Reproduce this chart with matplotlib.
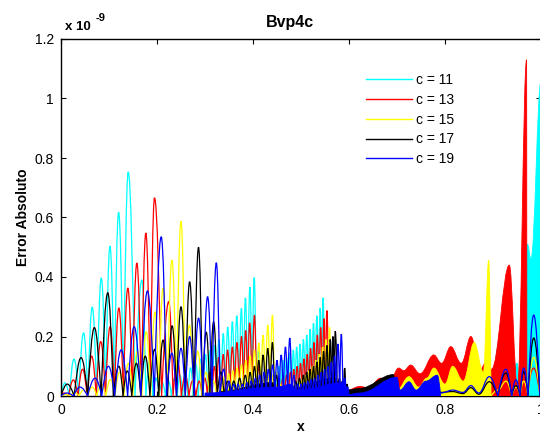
import matplotlib
matplotlib.use("Agg")
import matplotlib.pyplot as plt
from matplotlib.path import Path
from matplotlib.patches import PathPatch
from matplotlib.lines import Line2D

plt.rcParams['font.family'] = ['Liberation Sans', 'DejaVu Sans']

labels = ["c = 11", "c = 13", "c = 15", "c = 17", "c = 19"]
colors = ["#00ffff", "#ff0000", "#ffff00", "#000000", "#0000ff"]

# ---- oscillating error, x in [0, 0.6]: peak positions and heights (x 1e-9) ----
c11_px = [0.008, 0.027, 0.047, 0.065, 0.084, 0.102, 0.120, 0.140, 0.1685, 0.185, 0.198, 0.211,
          0.224, 0.236, 0.248, 0.259, 0.270, 0.281, 0.291, 0.301, 0.311, 0.320, 0.329, 0.338,
          0.3474, 0.357, 0.3662, 0.3758, 0.3842, 0.3935, 0.4025, 0.411, 0.420, 0.428, 0.437,
          0.445, 0.454, 0.462, 0.470, 0.477, 0.484, 0.491, 0.498, 0.505, 0.512, 0.519, 0.526,
          0.533, 0.540, 0.546, 0.552, 0.558, 0.564, 0.570, 0.576, 0.582, 0.588, 0.594]
c11_ph = [0.044, 0.124, 0.212, 0.299, 0.397, 0.504, 0.618, 0.753, 0.39, 0.12, 0.06, 0.045,
          0.05, 0.06, 0.07, 0.08, 0.095, 0.11, 0.125, 0.14, 0.155, 0.17, 0.19, 0.21,
          0.232, 0.25, 0.27, 0.295, 0.33, 0.366, 0.398, 0.15, 0.06, 0.04, 0.06,
          0.08, 0.10, 0.12, 0.13, 0.145, 0.155, 0.165, 0.175, 0.19, 0.205, 0.225, 0.245,
          0.27, 0.295, 0.33, 0.12, 0.06, 0.04, 0.03, 0.03, 0.03, 0.03, 0.02]

c13_px = [0.006, 0.0257, 0.0449, 0.064, 0.0828, 0.1023, 0.1205, 0.1392, 0.158, 0.1768, 0.1948,
          0.2245, 0.2425, 0.259, 0.274, 0.288, 0.300, 0.310, 0.3195, 0.3285, 0.338, 0.347,
          0.357, 0.3665, 0.376, 0.3848, 0.393, 0.403, 0.412, 0.421, 0.430, 0.438, 0.446,
          0.454, 0.462, 0.470, 0.478, 0.485, 0.492, 0.499, 0.506, 0.513, 0.520, 0.527, 0.534,
          0.541, 0.548, 0.554, 0.561, 0.567, 0.573, 0.579, 0.585, 0.591]
c13_ph = [0.01, 0.054, 0.09, 0.134, 0.183, 0.233, 0.296, 0.363, 0.447, 0.548, 0.666,
          0.317, 0.12, 0.07, 0.05, 0.05, 0.06, 0.08, 0.10, 0.13, 0.14, 0.155,
          0.165, 0.18, 0.20, 0.22, 0.246, 0.272, 0.10, 0.05, 0.04, 0.04, 0.045,
          0.05, 0.06, 0.07, 0.08, 0.09, 0.10, 0.11, 0.125, 0.14, 0.16, 0.18, 0.205,
          0.23, 0.26, 0.287, 0.08, 0.04, 0.03, 0.03, 0.03, 0.03]

c15_px = [0.010, 0.028, 0.047, 0.065, 0.084, 0.103, 0.122, 0.1405, 0.159, 0.1775, 0.196, 0.2123,
          0.231, 0.250, 0.2675, 0.285, 0.302, 0.318, 0.331, 0.340, 0.349, 0.358, 0.367, 0.376,
          0.385, 0.394, 0.403, 0.412, 0.421, 0.4307, 0.4405, 0.449, 0.457, 0.465, 0.473, 0.481,
          0.489, 0.496, 0.503, 0.510, 0.517, 0.524, 0.531, 0.538, 0.545, 0.552, 0.5595, 0.566,
          0.572, 0.578, 0.584, 0.590, 0.596]
c15_ph = [0.005, 0.012, 0.02, 0.03, 0.04, 0.055, 0.08, 0.11, 0.15, 0.216, 0.283, 0.362,
          0.457, 0.588, 0.239, 0.15, 0.08, 0.05, 0.05, 0.065, 0.075, 0.085, 0.095, 0.105,
          0.12, 0.135, 0.155, 0.178, 0.205, 0.239, 0.272, 0.08, 0.04, 0.03, 0.03, 0.035,
          0.04, 0.05, 0.06, 0.07, 0.085, 0.10, 0.12, 0.14, 0.165, 0.19, 0.23, 0.08,
          0.03, 0.03, 0.03, 0.03, 0.03]

c17_px = [0.013, 0.0418, 0.0695, 0.0975, 0.1205, 0.138, 0.157, 0.1755, 0.195, 0.2125, 0.2315,
          0.250, 0.268, 0.2865, 0.3025, 0.318, 0.333, 0.347, 0.360, 0.372, 0.384, 0.394, 0.403,
          0.412, 0.421, 0.4307, 0.4405, 0.449, 0.457, 0.465, 0.473, 0.481, 0.489, 0.497, 0.505,
          0.512, 0.519, 0.526, 0.533, 0.540, 0.547, 0.554, 0.561, 0.5665, 0.5714, 0.580, 0.586,
          0.591, 0.596]
c17_ph = [0.04, 0.129, 0.23, 0.347, 0.10, 0.084, 0.11, 0.134, 0.157, 0.188, 0.236,
          0.30, 0.384, 0.50, 0.215, 0.25, 0.08, 0.05, 0.05, 0.06, 0.07, 0.08, 0.10,
          0.12, 0.138, 0.16, 0.18, 0.07, 0.03, 0.03, 0.035, 0.04, 0.05, 0.06, 0.07,
          0.08, 0.09, 0.10, 0.115, 0.13, 0.15, 0.17, 0.19, 0.20, 0.218, 0.06, 0.05,
          0.094, 0.04]

c19_px = [0.012, 0.0397, 0.071, 0.0988, 0.1253, 0.1524, 0.180, 0.2088, 0.231, 0.250, 0.268,
          0.2866, 0.3054, 0.3236, 0.339, 0.350, 0.360, 0.369, 0.378, 0.387, 0.396, 0.405,
          0.414, 0.423, 0.432, 0.441, 0.450, 0.4587, 0.4676, 0.4766, 0.485, 0.493, 0.500,
          0.507, 0.514, 0.521, 0.528, 0.535, 0.542, 0.549, 0.556, 0.563, 0.570, 0.577, 0.584,
          0.591, 0.597]
c19_ph = [0.01, 0.03, 0.06, 0.10, 0.155, 0.233, 0.353, 0.535, 0.144, 0.16, 0.20,
          0.262, 0.334, 0.448, 0.09, 0.05, 0.04, 0.04, 0.04, 0.045, 0.05, 0.06,
          0.07, 0.08, 0.09, 0.105, 0.12, 0.138, 0.165, 0.195, 0.07, 0.04, 0.04,
          0.045, 0.05, 0.055, 0.06, 0.07, 0.08, 0.09, 0.10, 0.115, 0.135, 0.175, 0.208,
          0.06, 0.03]

# ---- dense (unresolved) oscillation bands: outline vertices, crest/valley ----
c11_bx = [0.600, 0.700, 0.735, 0.752, 0.770, 0.790, 0.830, 0.860, 0.880, 0.895, 0.915, 0.935,
          0.950, 0.958, 0.972, 0.979, 1.000]
c11_by = [0.010, 0.020, 0.080, 0.050, 0.060, 0.040, 0.060, 0.040, 0.050, 0.030, 0.200, 0.050,
          0.110, 0.040, 0.510, 0.460, 1.057]

c13_bx = [0.597, 0.622, 0.640, 0.666, 0.685, 0.7035, 0.714, 0.7286, 0.748, 0.7766, 0.793,
          0.812, 0.834, 0.854, 0.874, 0.884, 0.897, 0.934, 0.951, 0.970, 0.9705]
c13_by = [0.020, 0.032, 0.028, 0.060, 0.050, 0.094, 0.085, 0.104, 0.075, 0.138, 0.110,
          0.166, 0.110, 0.200, 0.090, 0.110, 0.090, 0.440, 0.030, 1.130, 0.000]

c15_bx = [0.330, 0.400, 0.440, 0.452, 0.500, 0.560, 0.570, 0.597, 0.640, 0.655, 0.680, 0.700,
          0.725, 0.745, 0.762, 0.777, 0.800, 0.816, 0.838, 0.861, 0.880, 0.891, 0.896]
c15_by = [0.020, 0.050, 0.070, 0.020, 0.040, 0.080, 0.020, 0.010, 0.020, 0.015, 0.035, 0.020,
          0.065, 0.030, 0.060, 0.094, 0.040, 0.100, 0.050, 0.180, 0.080, 0.457, 0.000]

c17_bx = [0.330, 0.440, 0.450, 0.572, 0.580, 0.597, 0.620, 0.693, 0.696]
c17_by = [0.015, 0.045, 0.015, 0.060, 0.020, 0.020, 0.025, 0.072, 0.000]

c19_bx = [0.300, 0.450, 0.480, 0.490, 0.590, 0.600, 0.622, 0.700, 0.706, 0.725, 0.740, 0.760,
          0.784, 0.791]
c19_by = [0.010, 0.030, 0.040, 0.020, 0.045, 0.005, 0.010, 0.063, 0.020, 0.048, 0.020, 0.050,
          0.070, 0.000]

# ---- smooth low-amplitude tails: alternating trough/crest vertices ----
c13_tx = [0.9705, 0.9848, 0.998]
c13_ty = [0.000, 0.094, 0.000]

c15_tx = [0.896, 0.910, 0.927, 0.939, 0.948, 0.956, 0.964, 0.973, 0.9848, 0.998]
c15_ty = [0.000, 0.020, 0.050, 0.000, 0.030, 0.000, 0.050, 0.000, 0.130, 0.000]

c17_tx = [0.696, 0.730, 0.760, 0.790, 0.8163, 0.8372, 0.8539, 0.8706, 0.892, 0.910, 0.9269,
          0.9388, 0.9478, 0.9562, 0.9639, 0.9729, 0.9848, 0.998]
c17_ty = [0.005, 0.010, 0.006, 0.012, 0.015, 0.008, 0.028, 0.006, 0.048, 0.000, 0.077,
          0.000, 0.035, 0.000, 0.082, 0.000, 0.195, 0.000]

c19_tx = [0.791, 0.8163, 0.8372, 0.8539, 0.8706, 0.892, 0.910, 0.9269, 0.9388, 0.9478, 0.9562,
          0.9639, 0.9729, 0.9848, 0.998]
c19_ty = [0.010, 0.020, 0.012, 0.035, 0.010, 0.065, 0.000, 0.090, 0.000, 0.054, 0.000,
          0.094, 0.000, 0.272, 0.000]


def curve_codes(xs, ys):
    """Cubic Bezier path through successive low/high vertices."""
    verts = [(xs[0], ys[0])]
    codes = [Path.MOVETO]
    for x0, y0, x1, y1 in zip(xs[:-1], ys[:-1], xs[1:], ys[1:]):
        dx, dy = x1 - x0, y1 - y0
        lo_at_start = y0 < y1
        lo = y0 if lo_at_start else y1
        cusp = lo <= 0.002
        if lo_at_start:
            c1 = (x0 + 0.33 * dx, y0 + 0.52 * dy) if cusp else (x0 + 0.4 * dx, y0)
            c2 = (x1 - 0.37 * dx, y1)
        else:
            c1 = (x0 + 0.37 * dx, y0)
            c2 = (x1 - 0.33 * dx, y1 - 0.52 * dy) if cusp else (x1 - 0.4 * dx, y1)
        verts += [c1, c2, (x1, y1)]
        codes += [Path.CURVE4] * 3
    return verts, codes


def peaks_to_vertices(px, ph):
    xs, ys = [], []
    for i, (p, h) in enumerate(zip(px, ph)):
        if i == 0:
            gap = px[1] - px[0]
            xs.append(max(0.0, p - gap / 2)); ys.append(0.0)
        xs.append(p); ys.append(h)
        if i + 1 < len(px):
            xs.append((p + px[i + 1]) / 2); ys.append(0.0)
        else:
            xs.append(p + (p - px[i - 1]) / 2); ys.append(0.0)
    return xs, ys


def draw_curve(ax, xs, ys, color, z):
    verts, codes = curve_codes(xs, ys)
    ax.add_patch(PathPatch(Path(verts, codes), facecolor="none", edgecolor=color,
                           lw=0.9, zorder=z))


def draw_band(ax, xs, ys, color, z):
    verts, codes = curve_codes(xs, ys)
    verts = verts + [(xs[-1], 0.0), (xs[0], 0.0), (xs[0], ys[0])]
    codes = codes + [Path.LINETO, Path.LINETO, Path.CLOSEPOLY]
    ax.add_patch(PathPatch(Path(verts, codes), facecolor=color, edgecolor=color,
                           lw=0.6, zorder=z))


fig = plt.figure(figsize=(5.40, 4.36), dpi=100)
ax = fig.add_axes([61 / 540, 40 / 436, 480 / 540, 357 / 436])

series = [
    (c11_px, c11_ph, c11_bx, c11_by, None, None),
    (c13_px, c13_ph, c13_bx, c13_by, c13_tx, c13_ty),
    (c15_px, c15_ph, c15_bx, c15_by, c15_tx, c15_ty),
    (c17_px, c17_ph, c17_bx, c17_by, c17_tx, c17_ty),
    (c19_px, c19_ph, c19_bx, c19_by, c19_tx, c19_ty),
]
for k, (px, ph, bx, by, tx, ty) in enumerate(series):
    z = 2 + k
    xs, ys = peaks_to_vertices(px, ph)
    draw_curve(ax, xs, ys, colors[k], z)
    draw_band(ax, bx, by, colors[k], z)
    if tx is not None:
        draw_curve(ax, tx, ty, colors[k], z)

ax.set_xlim(0, 1)
ax.set_ylim(0, 1.2)
ax.set_xticks([0, 0.2, 0.4, 0.6, 0.8, 1.0])
ax.set_xticklabels(["0", "0.2", "0.4", "0.6", "0.8", "1"])
ax.set_yticks([0, 0.2, 0.4, 0.6, 0.8, 1.0, 1.2])
ax.set_yticklabels(["0", "0.2", "0.4", "0.6", "0.8", "1", "1.2"])
ax.tick_params(direction="in", length=3.5, width=0.8, labelsize=10, pad=5,
               top=True, right=True)
for s in ax.spines.values():
    s.set_linewidth(1.0)

ax.set_xlabel("x", fontsize=10, fontweight="bold", labelpad=2)
ax.set_ylabel("Error Absoluto", fontsize=10, fontweight="bold", labelpad=3.5)
fig.text(290 / 540, 1 - 22 / 436, "Bvp4c", fontsize=11.5, fontweight="bold",
         ha="center", va="center")
fig.text(65 / 540, 1 - 30 / 436, "x 10", fontsize=9.5, fontweight="bold",
         ha="left", va="baseline")
fig.text(96 / 540, 1 - 21 / 436, "-9", fontsize=8, fontweight="bold",
         ha="left", va="baseline")

handles = [Line2D([], [], color=c, lw=1.0) for c in colors]
ax.legend(handles, labels, loc="upper left", bbox_to_anchor=(0.635, 0.905),
          frameon=False, fontsize=10, handlelength=3.3, handletextpad=0.3,
          labelspacing=0.42, borderpad=0, borderaxespad=0)

fig.savefig("out.png", dpi=100)
